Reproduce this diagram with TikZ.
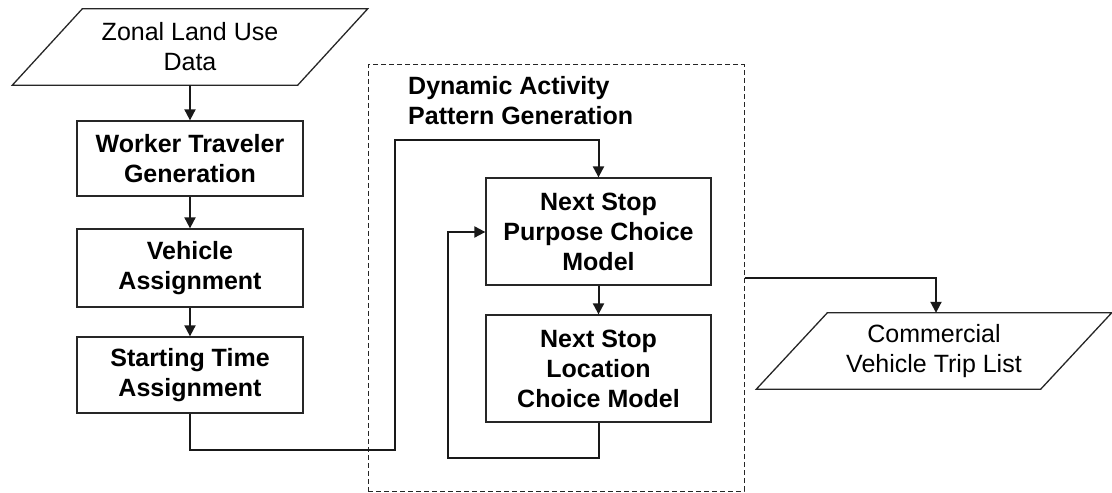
\documentclass[tikz,border=0pt]{standalone}
\usepackage{fontspec}
\setmainfont{Liberation Sans}
\usetikzlibrary{arrows.meta}
\begin{document}
\begin{tikzpicture}[x=1bp,y=-1bp,
  txt/.style={font=\fontsize{25bp}{30bp}\selectfont, align=center, inner sep=0pt},
  procbox/.style={txt, draw=black!85, line width=1.3bp, font=\fontsize{25bp}{30bp}\selectfont\bfseries},
  iobox/.style={txt, minimum width=285bp, minimum height=76bp},
  conn/.style={line width=2bp, draw=black!90},
  arr/.style={conn, -{Triangle[length=11bp,width=11bp]}}
]
\useasboundingbox (0,0) rectangle (1112,493);
% dashed frame
\node[draw=black!85, dashed, dash pattern=on 5bp off 3bp, line width=1bp, minimum width=376bp, minimum height=426bp, inner sep=0pt] (dyn) at (556,278) {};
\node[txt, font=\fontsize{25bp}{30bp}\selectfont\bfseries, align=left, anchor=north west] (dyntitle) at (408,76) {Dynamic Activity\\Pattern Generation};
% input parallelogram
\node[iobox] (zonal) at (190,47) {Zonal Land Use\\Data};
\draw[line width=1.3bp, draw=black!85] ([xshift=35bp]zonal.north west) -- ([xshift=35bp]zonal.north east) -- ([xshift=-35bp]zonal.south east) -- ([xshift=-35bp]zonal.south west) -- cycle;
% left column
\node[procbox, minimum width=226bp, minimum height=75bp] (worker) at (190,158.5) {Worker Traveler\\Generation};
\node[procbox, minimum width=226bp, minimum height=78bp] (vehicle) at (190,268) {Vehicle\\Assignment};
\node[procbox, minimum width=226bp, minimum height=76bp] (start) at (190,375) {Starting Time\\Assignment};
% inner boxes
\node[procbox, minimum width=225bp, minimum height=107bp] (purpose) at (598.5,231.5) {Next Stop\\Purpose Choice\\Model};
\node[procbox, minimum width=225bp, minimum height=107bp] (location) at (598.5,368.5) {Next Stop\\Location\\Choice Model};
% output parallelogram
\node[iobox, minimum width=284bp] (comm) at (934,351) {Commercial\\Vehicle Trip List};
\draw[line width=1.3bp, draw=black!85] ([xshift=35.5bp]comm.north west) -- ([xshift=35.5bp]comm.north east) -- ([xshift=-35.5bp]comm.south east) -- ([xshift=-35.5bp]comm.south west) -- cycle;
% connectors
\draw[arr] (zonal.south) -- (worker.north);
\draw[arr] (worker.south) -- (vehicle.north);
\draw[arr] (vehicle.south) -- (start.north);
\coordinate (e1) at (190,450);
\coordinate (e2) at (395,450);
\coordinate (e3) at (395,140);
\coordinate (e4) at (598.5,140);
\draw[arr] (start.south) -- (e1) -- (e2) -- (e3) -- (e4) -- (purpose.north);
\draw[arr] (purpose.south) -- (location.north);
\coordinate (f1) at (598.5,458);
\coordinate (f2) at (448,458);
\coordinate (f3) at (448,232);
\draw[arr] (location.south) -- (f1) -- (f2) -- (f3) -- (f3 -| purpose.west);
\coordinate (g1) at (936,278);
\draw[arr] (dyn.east) -- (g1) -- (g1 |- comm.north);
\end{tikzpicture}
\end{document}
